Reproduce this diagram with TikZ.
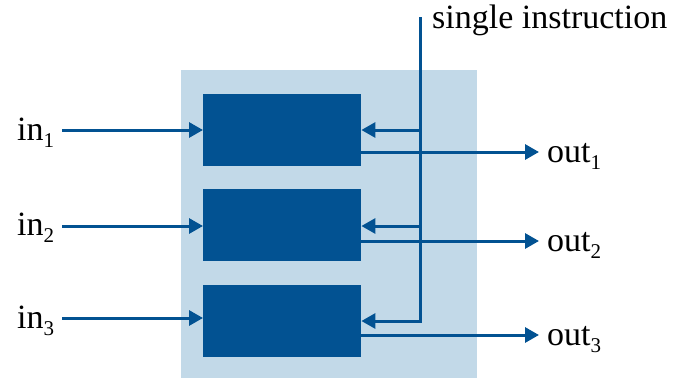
\documentclass[tikz,border=0pt]{standalone}
\usepackage{fontspec}
\setmainfont{Liberation Serif}
\usetikzlibrary{arrows.meta}
\definecolor{dblue}{RGB}{2,82,146}
\definecolor{lblue}{RGB}{194,217,232}
\newcommand{\lab}[2]{#1\raisebox{-7pt}{\fontsize{21}{21}\selectfont #2}}
\begin{document}
\begin{tikzpicture}[x=1pt,y=-1pt,
  blockbox/.style={draw=none,fill=dblue,minimum width=158pt,minimum height=72pt,inner sep=0pt,anchor=north west},
  wire/.style={draw=dblue,line width=3pt},
  arr/.style={wire,-{Triangle[length=14pt,width=15pt]}},
  lbl/.style={font=\fontsize{34}{34}\selectfont,inner sep=0pt,anchor=base west}]
\useasboundingbox (0,0) rectangle (673,378);
\fill[lblue] (181,70) rectangle (477,378);
\node[blockbox] (b1) at (203,94) {};
\node[blockbox] (b2) at (203,189) {};
\node[blockbox] (b3) at (203,285) {};
% labels
\node[lbl] (in1) at (17,140) {\lab{in}{1}};
\node[lbl] (in2) at (17,235) {\lab{in}{2}};
\node[lbl] (in3) at (17,328) {\lab{in}{3}};
\node[lbl] (o1) at (547,162) {\lab{out}{1}};
\node[lbl] (o2) at (547,251) {\lab{out}{2}};
\node[lbl] (o3) at (547,345) {\lab{out}{3}};
\node[lbl] (si) at (432,28) {single instruction};
% coordinates
\coordinate (s1) at (62,130);
\coordinate (s2) at (62,226);
\coordinate (s3) at (62,318);
\coordinate (top) at (420,17);
\coordinate (j1) at (420,130);
\coordinate (j2) at (420,226);
\coordinate (j3) at (420,321);
\coordinate (e1) at (539,152);
\coordinate (e2) at (539,241);
\coordinate (e3) at (539,335);
% inputs
\draw[arr] (s1) -- (s1 -| b1.west);
\draw[arr] (s2) -- (s2 -| b2.west);
\draw[arr] (s3) -- (s3 -| b3.west);
% instruction
\draw[wire] (top) -- (j3);
\draw[arr] ([xshift=1.5pt]j1) -- (j1 -| b1.east);
\draw[arr] ([xshift=1.5pt]j2) -- (j2 -| b2.east);
\draw[arr] ([xshift=1.5pt]j3) -- (j3 -| b3.east);
% outputs
\draw[arr] (e1 -| b1.east) -- (e1);
\draw[arr] (e2 -| b2.east) -- (e2);
\draw[arr] (e3 -| b3.east) -- (e3);
\end{tikzpicture}
\end{document}
